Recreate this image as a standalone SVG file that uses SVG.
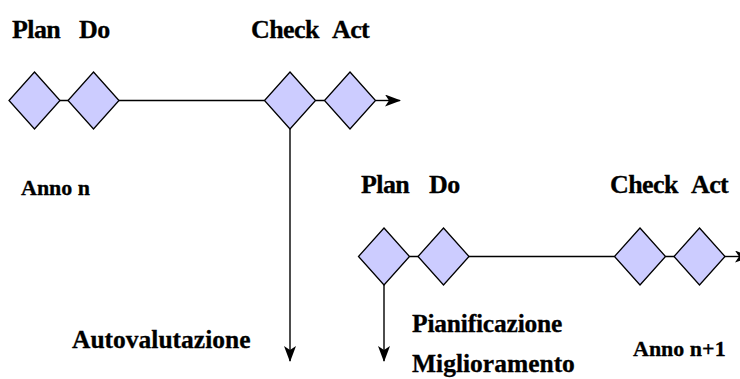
<svg xmlns="http://www.w3.org/2000/svg" width="740" height="379" viewBox="0 0 740 379">
  <style>
    .step { fill: #ccccff; stroke: #000; stroke-width: 1.3; stroke-linejoin: miter; }
    .wire { fill: none; stroke: #000; stroke-width: 1.4; }
    .lbl { font-family: "Liberation Serif", "Times New Roman", serif; font-weight: bold; fill: #000; stroke: #000; stroke-width: 0.3; }
    .big { font-size: 26px; letter-spacing: -0.6px; }
    .mid { font-size: 25.5px; }
    .small { font-size: 22px; }
  </style>
  <defs>
    <marker id="stealth" viewBox="0 0 16 12" refX="15" refY="6" markerWidth="16" markerHeight="12" markerUnits="userSpaceOnUse" orient="auto">
      <path d="M0,0 L16,6 L0,12 L4,6 Z" fill="#000"/>
    </marker>
    <path id="dia" d="M0,-28.5 L25.5,0 L0,28.5 L-25.5,0 Z"/>
  </defs>

  <!-- connectors -->
  <g id="connectors">
    <!-- year n timeline and its branch down -->
    <path class="wire" d="M60,100.5 H68 M119,100.5 H264.5 M315.5,100.5 H324.5"/>
    <path class="wire" d="M375.5,100.5 H400" marker-end="url(#stealth)"/>
    <path class="wire" d="M290,129 V361" marker-end="url(#stealth)"/>
    <!-- year n+1 timeline and its branch down -->
    <path class="wire" d="M409.5,256.5 H418 M469,256.5 H614.5 M665.5,256.5 H674"/>
    <path class="wire" d="M725,256.5 H750" marker-end="url(#stealth)"/>
    <path class="wire" d="M384,285 V361" marker-end="url(#stealth)"/>
  </g>

  <!-- year n steps -->
  <g id="plan-n"><use href="#dia" class="step" x="34.5" y="100.5"/></g>
  <g id="do-n"><use href="#dia" class="step" x="93.5" y="100.5"/></g>
  <g id="check-n"><use href="#dia" class="step" x="290" y="100.5"/></g>
  <g id="act-n"><use href="#dia" class="step" x="350" y="100.5"/></g>

  <!-- year n+1 steps -->
  <g id="plan-n1"><use href="#dia" class="step" x="384" y="256.5"/></g>
  <g id="do-n1"><use href="#dia" class="step" x="443.5" y="256.5"/></g>
  <g id="check-n1"><use href="#dia" class="step" x="640" y="256.5"/></g>
  <g id="act-n1"><use href="#dia" class="step" x="699.5" y="256.5"/></g>

  <!-- labels -->
  <g id="labels">
    <text class="lbl big" x="12" y="38">Plan</text>
    <text class="lbl big" x="79" y="38">Do</text>
    <text class="lbl big" x="251" y="38">Check</text>
    <text class="lbl big" x="332" y="38">Act</text>
    <text class="lbl small" x="21" y="195">Anno n</text>

    <text class="lbl big" x="361" y="193">Plan</text>
    <text class="lbl big" x="429" y="193">Do</text>
    <text class="lbl big" x="610" y="193">Check</text>
    <text class="lbl big" x="691" y="193">Act</text>

    <text class="lbl mid" x="72" y="348">Autovalutazione</text>
    <text class="lbl mid" x="412" y="332" letter-spacing="-0.2">Pianificazione</text>
    <text class="lbl mid" x="412" y="371.5">Miglioramento</text>
    <text class="lbl small" x="633" y="356">Anno n+1</text>
  </g>
</svg>
